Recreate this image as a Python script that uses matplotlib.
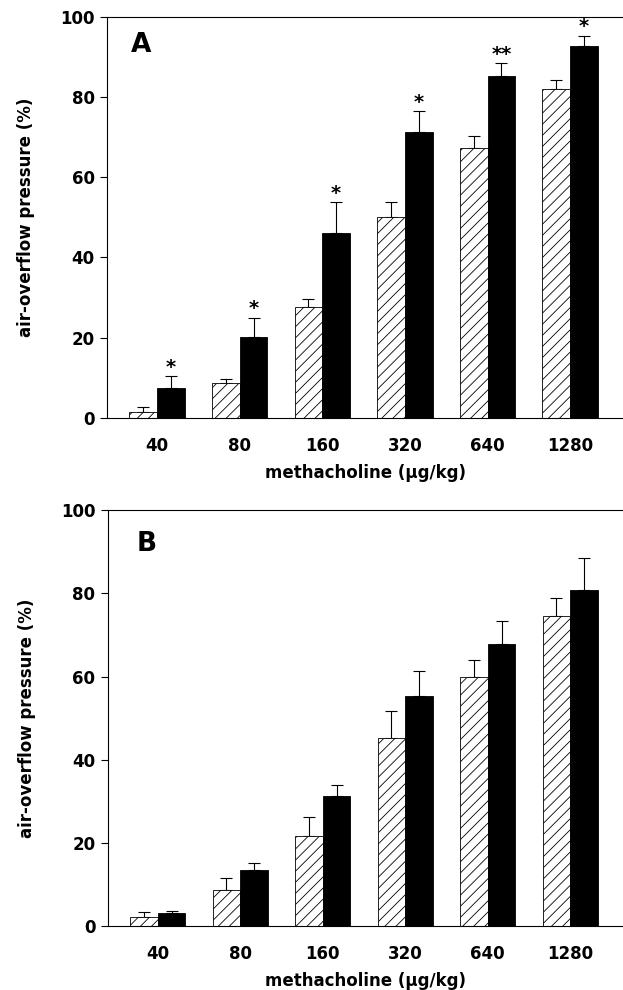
import numpy as np
import matplotlib
matplotlib.use("Agg")
import matplotlib.pyplot as plt

plt.rcParams['font.family'] = ['DejaVu Sans']
plt.rcParams['font.weight'] = 'bold'
plt.rcParams['hatch.linewidth'] = 0.6

doses = ['40', '80', '160', '320', '640', '1280']

# panel A: hatched (control) vs black (treated), mean and SEM
a_hatch = [1.5, 8.7, 27.6, 50.1, 67.3, 82.0]
a_hatch_err = [1.2, 0.9, 2.0, 3.8, 2.9, 2.3]
a_black = [7.5, 20.2, 46.1, 71.4, 85.3, 92.8]
a_black_err = [2.8, 4.8, 7.7, 5.0, 3.2, 2.5]
a_stars = ['*', '*', '*', '*', '**', '*']

# panel B
b_hatch = [2.2, 8.7, 21.6, 45.2, 59.9, 74.5]
b_hatch_err = [1.1, 2.8, 4.6, 6.5, 4.0, 4.3]
b_black = [3.2, 13.5, 31.2, 55.3, 67.8, 80.8]
b_black_err = [0.5, 1.6, 2.7, 6.0, 5.5, 7.7]

x = np.arange(len(doses))
w = 0.335

fig = plt.figure(figsize=(6.23, 9.9), dpi=100)
ax_a = fig.add_axes([0.172, 0.578, 0.828, 0.405])
ax_b = fig.add_axes([0.173, 0.0646, 0.827, 0.42])


def draw_panel(ax, hatch_vals, hatch_err, black_vals, black_err, letter, lpos):
    ax.bar(x - w / 2, hatch_vals, w, color='white', edgecolor='black',
           linewidth=0.6, hatch='///', zorder=2)
    ax.bar(x + w / 2, black_vals, w, color='black', edgecolor='black',
           linewidth=0.6, zorder=2)
    # error bars go up only
    ax.errorbar(x - w / 2, hatch_vals, yerr=[np.zeros(len(x)), hatch_err],
                fmt='none', ecolor='black', elinewidth=0.8, capsize=4,
                capthick=0.8, zorder=1)
    ax.errorbar(x + w / 2, black_vals, yerr=[np.zeros(len(x)), black_err],
                fmt='none', ecolor='black', elinewidth=0.8, capsize=4,
                capthick=0.8, zorder=1)

    ax.set_xlim(-0.605, 5.64)
    ax.set_ylim(0, 100)
    ax.set_yticks([0, 20, 40, 60, 80, 100])
    ax.set_xticks(x)
    ax.set_xticklabels(doses)
    ax.tick_params(axis='y', direction='out', length=5, width=0.8,
                   labelsize=12, pad=4)
    ax.tick_params(axis='x', length=0, labelsize=12, pad=14)
    for lab in ax.get_xticklabels() + ax.get_yticklabels():
        lab.set_fontweight('bold')
    ax.spines['right'].set_visible(False)
    for s in ['left', 'top', 'bottom']:
        ax.spines[s].set_linewidth(0.8)
    ax.set_ylabel('air-overflow pressure (%)', fontsize=12,
                  fontweight='bold', labelpad=18)
    ax.set_xlabel('methacholine (\u00b5g/kg)', fontsize=12,
                  fontweight='bold', labelpad=6)
    ax.text(lpos[0], lpos[1], letter, transform=ax.transAxes, fontsize=19,
            fontweight='bold', ha='center', va='center')


draw_panel(ax_a, a_hatch, a_hatch_err, a_black, a_black_err, 'A', (0.066, 0.93))
draw_panel(ax_b, b_hatch, b_hatch_err, b_black, b_black_err, 'B', (0.076, 0.92))

# significance marks over the treated bars in panel A
for xi, v, e, s in zip(x, a_black, a_black_err, a_stars):
    ax_a.text(xi + w / 2, v + e + 2.2, s, ha='center', va='center',
              fontsize=14, fontweight='bold')

fig.savefig('out.png', dpi=100)
